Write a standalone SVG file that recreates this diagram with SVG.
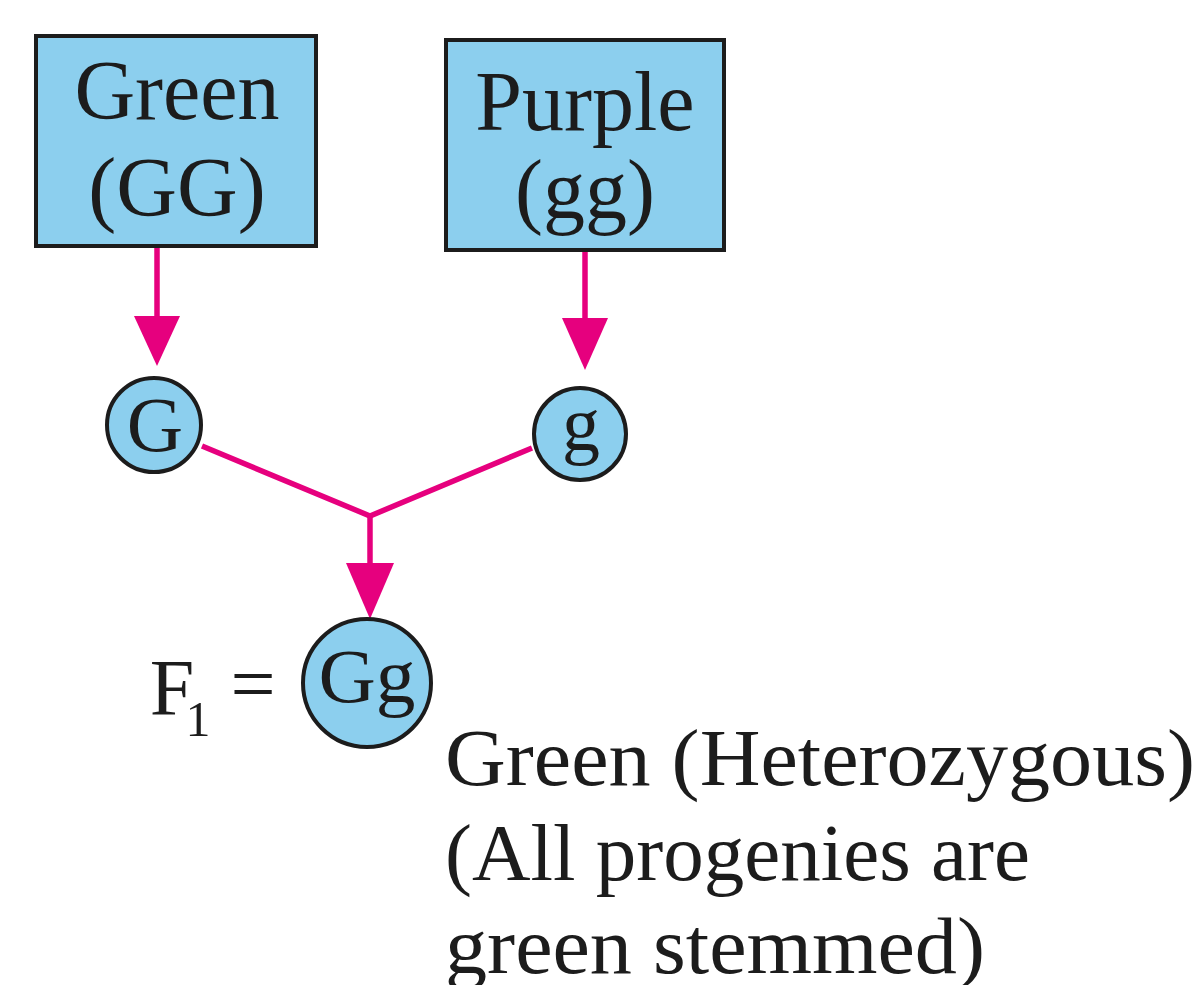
<svg xmlns="http://www.w3.org/2000/svg" width="1203" height="985" viewBox="0 0 1203 985">
<style>
.box{fill:#8ccfee;stroke:#1c1c1c;stroke-width:4}
.t{font-family:"Liberation Serif",serif;fill:#1c1c1c;text-anchor:middle}
.cap{font-family:"Liberation Serif",serif;fill:#1c1c1c;font-size:80px}
.c{stroke:#e6007e;stroke-width:5.5;fill:none}
.h{fill:#e6007e}
</style>
<rect width="1203" height="985" fill="#ffffff"/>
<g id="connectors">
<line class="c" x1="157" y1="248" x2="157" y2="318"/>
<polygon class="h" points="134,316 180,316 157,366"/>
<line class="c" x1="585" y1="252" x2="585" y2="320"/>
<polygon class="h" points="562,318 608,318 585,370"/>
<polyline class="c" points="202,446 370,516 532,448"/>
<line class="c" x1="370" y1="516" x2="370" y2="566"/>
<polygon class="h" points="346,563 394,563 370,619"/>
</g>
<g id="green-parent">
<rect class="box" x="36" y="36" width="280" height="210"/>
<text class="t" x="177" y="119" font-size="84">Green</text>
<text class="t" x="177" y="216" font-size="84">(GG)</text>
</g>
<g id="purple-parent">
<rect class="box" x="446" y="40" width="278" height="210"/>
<text class="t" x="585" y="130" font-size="84">Purple</text>
<text class="t" x="585" y="218" font-size="84">(gg)</text>
</g>
<g id="gamete-G">
<circle class="box" cx="154" cy="425" r="47"/>
<text class="t" x="155" y="451" font-size="78">G</text>
</g>
<g id="gamete-g">
<circle class="box" cx="580" cy="434" r="46"/>
<text class="t" x="581" y="450" font-size="76">g</text>
</g>
<g id="f1">
<circle class="box" cx="367" cy="683" r="64"/>
<text class="t" x="367" y="702" font-size="76" textLength="97" lengthAdjust="spacingAndGlyphs">Gg</text>
<text class="t" x="172" y="715" font-size="80">F</text>
<text class="t" x="198" y="736" font-size="50">1</text>
<text class="t" x="253" y="711" font-size="80">=</text>
</g>
<g id="caption">
<text class="cap" x="445" y="785" textLength="750" lengthAdjust="spacingAndGlyphs">Green (Heterozygous)</text>
<text class="cap" x="445" y="880" textLength="585" lengthAdjust="spacingAndGlyphs">(All progenies are</text>
<text class="cap" x="445" y="973" textLength="540" lengthAdjust="spacingAndGlyphs">green stemmed)</text>
</g>
</svg>
